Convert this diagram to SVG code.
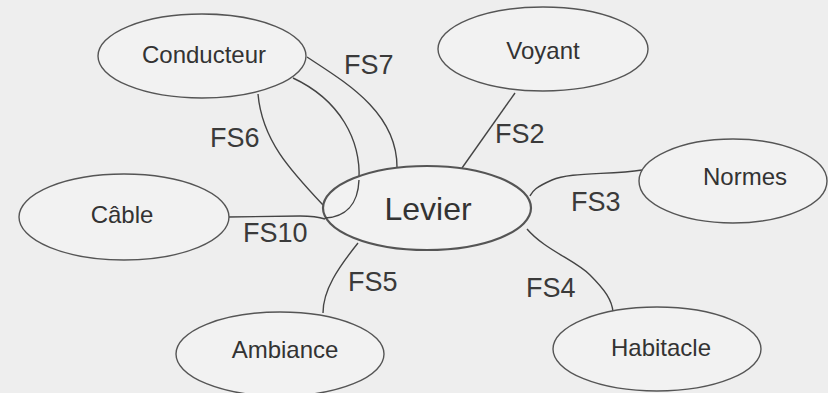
<svg xmlns="http://www.w3.org/2000/svg" width="828" height="393" viewBox="0 0 828 393">
<style>
.bg{fill:#eeeeee}
.node ellipse{fill:#f2f2f2;stroke:#555;stroke-width:1.4}
.node text{font-family:"Liberation Sans",Arial,sans-serif;font-size:24px;fill:#333;text-anchor:middle}
#levier ellipse{stroke-width:2.2}
#levier text{font-size:32px}
.edges path{fill:none;stroke:#444;stroke-width:1.4}
.lbl{font-family:"Liberation Sans",Arial,sans-serif;font-size:27px;fill:#3a3a3a}
</style>
<rect class="bg" x="0" y="0" width="828" height="393"/>
<g class="edges">
<path d="M307,57 C345,82 397,112 397,167"/>
<path d="M293,78 C340,100 361,140 359,180 C358,205 345,217 325,218"/>
<path d="M258,94 C262,140 290,170 323,205"/>
<path d="M228,217 L300,216 Q316,216 325,219"/>
<path d="M515,93 L462,168"/>
<path d="M642,170 C610,175 570,172 552,180 S533,191 530,196"/>
<path d="M527,229 C545,250 575,260 590,275 C605,290 612,300 613,312"/>
<path d="M358,243 C338,268 323,290 323,313"/>
<text class="lbl" x="344" y="74">FS7</text>
<text class="lbl" x="210" y="147">FS6</text>
<text class="lbl" x="495" y="143">FS2</text>
<text class="lbl" x="571" y="211">FS3</text>
<text class="lbl" x="243" y="242">FS10</text>
<text class="lbl" x="348" y="291">FS5</text>
<text class="lbl" x="526" y="297">FS4</text>
</g>
<g id="conducteur" class="node"><ellipse cx="202" cy="56" rx="104" ry="42"/><text x="204" y="63">Conducteur</text></g>
<g id="voyant" class="node"><ellipse cx="543" cy="49" rx="105" ry="42"/><text x="543" y="59">Voyant</text></g>
<g id="normes" class="node"><ellipse cx="733" cy="181" rx="94" ry="42"/><text x="745" y="185">Normes</text></g>
<g id="cable" class="node"><ellipse cx="124" cy="217" rx="105" ry="43"/><text x="122" y="223">Câble</text></g>
<g id="ambiance" class="node"><ellipse cx="280" cy="354" rx="104" ry="42"/><text x="285" y="358">Ambiance</text></g>
<g id="habitacle" class="node"><ellipse cx="657" cy="349" rx="104" ry="42"/><text x="661" y="356">Habitacle</text></g>
<g id="levier" class="node"><ellipse cx="427" cy="208" rx="104" ry="42"/><text x="428" y="220">Levier</text></g>
<g class="edges"><path d="M359,180 C358,205 345,217 325,218"/></g>
</svg>
